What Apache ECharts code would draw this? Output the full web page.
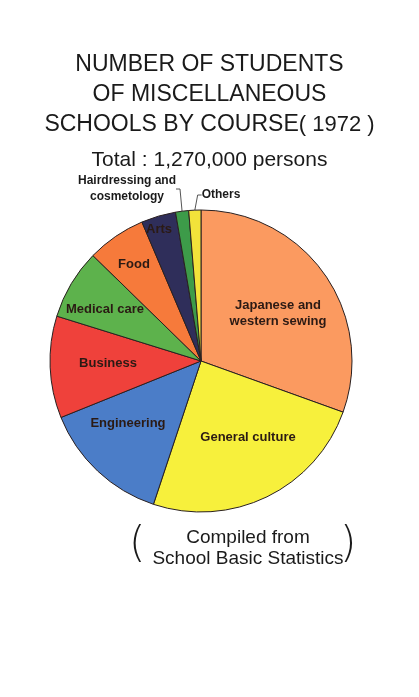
<!DOCTYPE html>
<html>
<head>
<meta charset="utf-8">
<script src="https://cdn.jsdelivr.net/npm/echarts@6/dist/echarts.min.js"></script>
<style>
  html, body { margin: 0; padding: 0; background: #fff; }
  #main { width: 419px; height: 697px; }
</style>
</head>
<body>
<div id="main"></div>
<script>
// share of students by course, percent
var courses = ['Japanese and\nwestern sewing', 'General culture', 'Engineering', 'Business',
               'Medical care', 'Food', 'Arts', 'Hairdressing and\ncosmetology', 'Others'];
var shares = [30.5, 24.6, 13.8, 10.9, 7.5, 6.3, 3.7, 1.4, 1.3];
var colors = ['#fb9a60', '#f7f03c', '#4b7dc8', '#ef413b', '#5db24c', '#f67a3b', '#2f2e5a', '#3d9b49', '#f2e23a'];
// where each label sits on the page
var labelPos = [[278, 313], [248, 437], [128, 423], [108, 363], [105, 309],
                [134, 264], [159, 229], [127, 189], [221, 195]];

var chart = echarts.init(document.getElementById('main'));
var sans = '"Liberation Sans", sans-serif';

var option = {
    backgroundColor: '#fff',
    title: [
        {
            text: 'NUMBER OF STUDENTS\nOF MISCELLANEOUS\n{a|SCHOOLS BY COURSE}{b|( 1972 )}',
            left: 'center', top: 45,
            textStyle: {
                fontFamily: sans, fontSize: 23, fontWeight: 'normal', color: '#1a1a1a', lineHeight: 30,
                rich: {
                    a: { fontFamily: sans, fontSize: 23, color: '#1a1a1a', lineHeight: 30 },
                    b: { fontFamily: sans, fontSize: 22, color: '#1a1a1a', lineHeight: 30 }
                }
            }
        },
        {
            text: 'Total : 1,270,000 persons',
            left: 'center', top: 145,
            textStyle: { fontFamily: sans, fontSize: 21, fontWeight: 'normal', color: '#1a1a1a' }
        },
        {
            text: 'Compiled from\nSchool Basic Statistics',
            left: 243, top: 522, textAlign: 'center',
            textStyle: { fontFamily: sans, fontSize: 19, fontWeight: 'normal',
                         color: '#1a1a1a', lineHeight: 21, align: 'center' }
        },
        {
            text: '(', left: 124, top: 520,
            textStyle: { fontFamily: '"DejaVu Sans", sans-serif', fontSize: 42, fontWeight: 'lighter', color: '#1a1a1a' }
        },
        {
            text: ')', left: 335, top: 520,
            textStyle: { fontFamily: '"DejaVu Sans", sans-serif', fontSize: 42, fontWeight: 'lighter', color: '#1a1a1a' }
        }
    ],
    series: [{
        type: 'pie',
        center: [201, 361],
        radius: 151,
        startAngle: 90,
        clockwise: true,
        avoidLabelOverlap: false,
        itemStyle: { borderColor: '#2a2020', borderWidth: 1 },
        label: {
            position: 'inside',
            fontFamily: sans, fontSize: 13, fontWeight: 'bold', color: '#2b1a14',
            lineHeight: 16, align: 'center',
            formatter: '{b}'
        },
        labelLine: { show: false },
        labelLayout: function (p) {
            var xy = labelPos[p.dataIndex];
            return { x: xy[0], y: xy[1], align: 'center', verticalAlign: 'middle' };
        },
        emphasis: { disabled: true },
        data: courses.map(function (name, i) {
            var item = { name: name, value: shares[i], itemStyle: { color: colors[i] } };
            if (i >= 7) {
                item.label = { position: 'outside', color: '#1a1a1a', fontSize: 12 };
                item.labelLine = { show: true, length: 4, length2: 4, lineStyle: { color: '#555', width: 1 } };
            }
            return item;
        })
    }]
};
chart.setOption(option);
</script>
</body>
</html>
